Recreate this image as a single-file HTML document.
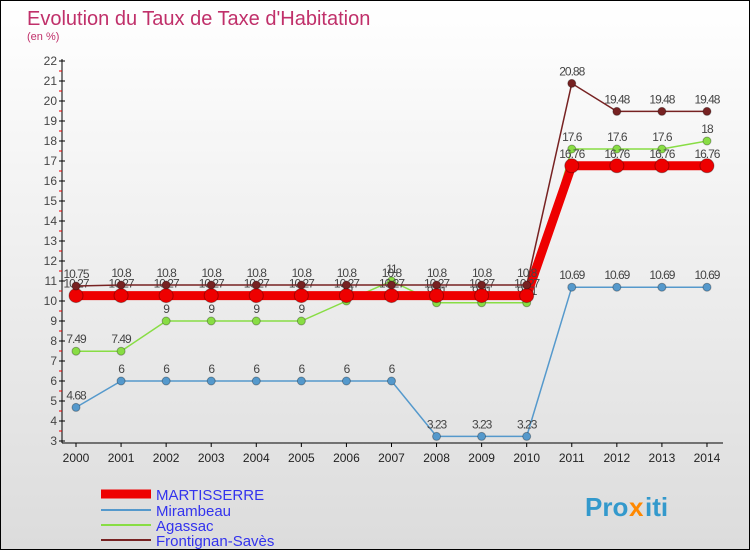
<!DOCTYPE html>
<html><head><meta charset="utf-8"><style>
body{margin:0}
#c{width:748px;height:548px;border:1px solid #000;position:relative;background:linear-gradient(#ffffff,#dcdcdc);font-family:"Liberation Sans","DejaVu Sans",sans-serif;overflow:hidden}
</style></head><body>
<div id="c">
<svg id="s" width="748" height="548" xmlns="http://www.w3.org/2000/svg" style="position:absolute;left:0;top:0">
<text x="26" y="24" font-size="20" fill="#c0306a">Evolution du Taux de Taxe d'Habitation</text>
<text x="26" y="39" font-size="11" fill="#c0306a">(en %)</text>
<g id="axes"></g><g id="series"></g>
<g>
<line x1="100" y1="493" x2="150" y2="493" stroke="#ee0000" stroke-width="9"/>
<text x="155" y="499" font-size="15" fill="#3333ee">MARTISSERRE</text>
<line x1="100" y1="509" x2="150" y2="509" stroke="#5599cc" stroke-width="2"/>
<text x="155" y="515" font-size="15" fill="#3333ee">Mirambeau</text>
<line x1="100" y1="524" x2="150" y2="524" stroke="#88dd44" stroke-width="2"/>
<text x="155" y="530" font-size="15" fill="#3333ee">Agassac</text>
<line x1="100" y1="539" x2="150" y2="539" stroke="#772222" stroke-width="2"/>
<text x="155" y="545" font-size="15" fill="#3333ee">Frontignan-Savès</text>
</g>
<g font-size="26" font-weight="bold">
<text x="584" y="515" fill="#3399cc">Pro</text><text x="628" y="515" fill="#ff8800">x</text><text x="644" y="515" fill="#3399cc">iti</text>
</g>
</svg>
</div>
<script>
const years=[2000,2001,2002,2003,2004,2005,2006,2007,2008,2009,2010,2011,2012,2013,2014];
const yTicks=[3,4,5,6,7,8,9,10,11,12,13,14,15,16,17,18,19,20,21,22];
const martisserre=[10.27,10.27,10.27,10.27,10.27,10.27,10.27,10.27,10.27,10.27,10.27,16.76,16.76,16.76,16.76];
const mirambeau=[4.68,6,6,6,6,6,6,6,3.23,3.23,3.23,10.69,10.69,10.69,10.69];
const agassac=[7.49,7.49,9,9,9,9,10,11,9.91,9.91,9.91,17.6,17.6,17.6,18];
const frontignan=[10.75,10.8,10.8,10.8,10.8,10.8,10.8,10.8,10.8,10.8,10.8,20.88,19.48,19.48,19.48];
const NS="http://www.w3.org/2000/svg";
const X=i=>75+i*45.07, Y=v=>60+(22-v)*20;
function mk(t,a,p){const e=document.createElementNS(NS,t);for(const k in a)e.setAttribute(k,a[k]);p.appendChild(e);return e;}
const ax=document.getElementById('axes');
const yl=mk('line',{x1:61,y1:58,x2:61,y2:442,stroke:'#000'},ax);


const xl=mk('line',{x1:61,y1:442,x2:722,y2:442,stroke:'#000'},ax);


yTicks.forEach(v=>{
 mk('line',{x1:58,y1:Y(v),x2:64,y2:Y(v),stroke:'#000'},ax);
 if(v<22)mk('line',{x1:58,y1:Y(v)-10,x2:61,y2:Y(v)-10,stroke:'#e00'},ax);
 const t=mk('text',{x:56,y:Y(v)+4,'font-size':12,fill:'#444','text-anchor':'end'},ax);t.textContent=v;
 
 
});
years.forEach((y,i)=>{
 mk('line',{x1:X(i),y1:442,x2:X(i),y2:446,stroke:'#000'},ax);
 const t=mk('text',{x:X(i),y:461,'font-size':12,fill:'#222','text-anchor':'middle'},ax);t.textContent=y;
 
 
});
const sg=document.getElementById('series');
function series(vals,color,w,r,name,lblOff){
 const g=mk('g',{},sg);
 
 
 mk('polyline',{points:vals.map((v,i)=>X(i)+','+Y(v)).join(' '),fill:'none',stroke:color,'stroke-width':w},g);
 vals.forEach((v,i)=>{
  const c=mk('circle',{cx:X(i),cy:Y(v),r:r,fill:color,stroke:'rgba(0,0,0,0.3)'},g);
  
  
  const t=mk('text',{x:X(i),y:Y(v)+lblOff,'font-size':12,fill:'#444','text-anchor':'middle','letter-spacing':'-1'},g);
  t.textContent=String(v);
 });
}
series(agassac,'#88dd44',1.5,4,'series-agassac',-8);
series(mirambeau,'#5599cc',1.5,4,'series-mirambeau',-8);
series(martisserre,'#ee0000',9,7,'series-martisserre',-8);
series(frontignan,'#772222',1.5,4,'series-frontignan',-8);
</script>
</body></html>
